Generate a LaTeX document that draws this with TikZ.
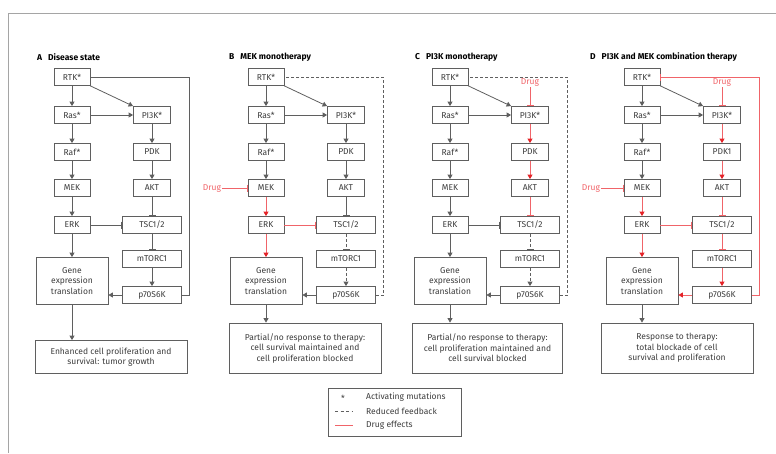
\documentclass[tikz,border=0pt]{standalone}
\usepackage{fontspec}
\setmainfont{Fira Sans}
\usetikzlibrary{arrows.meta,positioning,calc}
\definecolor{boxgray}{RGB}{95,95,95}
\definecolor{txtgray}{RGB}{60,60,60}
\definecolor{framegray}{RGB}{165,165,165}
\definecolor{drugred}{RGB}{240,100,105}
\definecolor{tipred}{RGB}{228,35,40}
\tikzset{
  box/.style={draw=boxgray, line width=0.8pt, minimum height=17pt, inner sep=1pt,
    text=txtgray, font=\fontsize{8.5}{10.5}\selectfont},
  act/.style={color=boxgray, line width=0.8pt, -{Triangle[length=4.5pt,width=5pt]}},
  inh/.style={color=boxgray, line width=0.8pt, -{Bar[width=7pt,line width=0.8pt]}},
  fbk/.style={dash pattern=on 3pt off 2pt},
  drugfx/.style={color=drugred},
  drugact/.style={color=drugred, line width=0.8pt, -{Triangle[length=4.5pt,width=5pt,color=tipred]}},
  drugtxt/.style={text=drugred, inner sep=1pt, font=\fontsize{8.5}{10.5}\selectfont},
  legtxt/.style={anchor=west, text=txtgray, font=\fontsize{8.5}{10}\selectfont, inner sep=0pt},
  paneltitle/.style={anchor=west, text=black, inner sep=0pt, font=\fontsize{8.5}{10}\selectfont\bfseries}
}
% nodes of one pathway: prefix, x of the left column, label of PDK
\newcommand{\pathnodes}[3]{%
  \begin{scope}[xshift=#2]
  \node[box, minimum width=36pt] (#1rtk) at (0,77) {RTK*};
  \node[box, minimum width=36pt] (#1ras) at (0,115) {Ras*};
  \node[box, minimum width=36pt] (#1raf) at (0,152) {Raf*};
  \node[box, minimum width=36pt] (#1mek) at (0,188) {MEK};
  \node[box, minimum width=36pt] (#1erk) at (0,225) {ERK};
  \node[box, minimum width=72pt, minimum height=47pt, align=center] (#1gene) at (0,281) {Gene\\expression\\translation};
  \node[box, minimum width=37pt] (#1pik) at (80,115) {PI3K*};
  \node[box, minimum width=37pt] (#1pdk) at (80,152) {#3};
  \node[box, minimum width=37pt] (#1akt) at (80,188) {AKT};
  \node[box, minimum width=59pt] (#1tsc) at (80,225) {TSC1/2};
  \node[box, minimum width=59pt] (#1mtor) at (80,259) {mTORC1};
  \node[box, minimum width=59pt] (#1p70) at (80,295) {p70S6K};
  \coordinate (#1fb) at (117.5,77);
  \end{scope}}

\begin{document}
\begin{tikzpicture}[x=1pt,y=-1pt]
	\useasboundingbox (0,0) rectangle (776,453);
	\draw [framegray, line width=1pt] (8,453) -- (8,13) -- (776,13);

	% legend
	\node[draw=boxgray, line width=0.8pt, minimum width=133pt, minimum height=48pt] (legend) at (394.5,412) {};
	\node[text=txtgray, font=\fontsize{8.5}{10}\selectfont] (lstar) at (343,398) {*};
	\node[legtxt] (ltxt1) at (366,397) {Activating mutations};
	\node[legtxt] (ltxt2) at (366,411) {Reduced feedback};
	\node[legtxt] (ltxt3) at (366,425) {Drug effects};
	\coordinate (ld1) at (335,411);
	\coordinate (ld2) at (353,411);
	\draw [color=boxgray, line width=0.8pt, dash pattern=on 3pt off 2.5pt] (ld1) -- (ld2);
	\node[fill=drugred, draw=none, inner sep=0pt, minimum width=18pt, minimum height=1pt] (lred) at (344,425.5) {};

	% A disease state
	\node[paneltitle] (atitle) at (37,57) {A\hspace{6pt}Disease state};
	\pathnodes{a}{72}{PDK}
	\node[box, minimum width=152pt, minimum height=33pt, align=center] (aout) at (111,357) {Enhanced cell proliferation and\\survival: tumor growth};
	\draw [act] (artk) -- (aras);
	\draw [act] (aras) -- (araf);
	\draw [act] (araf) -- (amek);
	\draw [act] (amek) -- (aerk);
	\draw [act] (aerk) -- (agene);
	\draw [act] (agene) -- (agene |- aout.north);
	\draw [act] (artk.south east) -- (apik.north west);
	\draw [act] (aras) -- (apik);
	\draw [act] (apik) -- (apdk);
	\draw [act] (apdk) -- (aakt);
	\draw [inh] (aakt) -- (atsc);
	\draw [inh] (aerk) -- (atsc);
	\draw [inh] (atsc) -- (amtor);
	\draw [act] (amtor) -- (ap70);
	\draw [act] (ap70) -- (ap70 -| agene.east);
	\draw [inh] (ap70.east) -| (afb) -- (artk.east);

	% B MEK monotherapy
	\node[paneltitle] (btitle) at (229,57) {B\hspace{6pt}MEK monotherapy};
	\pathnodes{b}{266}{PDK}
	\node[box, minimum width=152pt, minimum height=50pt, align=center] (bout) at (305,348) {Partial/no response to therapy:\\cell survival maintained and\\cell proliferation blocked};
	\node[drugtxt] (bdrug) at (212,188) {Drug};
	\draw [act] (brtk) -- (bras);
	\draw [act] (bras) -- (braf);
	\draw [act] (braf) -- (bmek);
	\draw [drugact] (bmek) -- (berk);
	\draw [drugact] (berk) -- (bgene);
	\draw [act] (bgene) -- (bgene |- bout.north);
	\draw [act] (brtk.south east) -- (bpik.north west);
	\draw [act] (bras) -- (bpik);
	\draw [act] (bpik) -- (bpdk);
	\draw [act] (bpdk) -- (bakt);
	\draw [inh] (bakt) -- (btsc);
	\draw [inh, drugfx] (berk) -- (btsc);
	\draw [inh, drugfx] (bdrug) -- (bmek);
	\draw [inh, fbk] (btsc) -- (bmtor);
	\draw [act, fbk] (bmtor) -- (bp70);
	\draw [act] (bp70) -- (bp70 -| bgene.east);
	\draw [inh, fbk] (bp70.east) -| (bfb) -- (brtk.east);

	% C PI3K monotherapy
	\node[paneltitle] (ctitle) at (415,57) {C\hspace{6pt}PI3K monotherapy};
	\pathnodes{c}{450}{PDK}
	\node[box, minimum width=150pt, minimum height=50pt, align=center] (cout) at (487.5,348) {Partial/no response to therapy:\\cell proliferation maintained and\\cell survival blocked};
	\node[drugtxt] (cdrug) at (530,82) {Drug};
	\draw [act] (crtk) -- (cras);
	\draw [act] (cras) -- (craf);
	\draw [act] (craf) -- (cmek);
	\draw [act] (cmek) -- (cerk);
	\draw [act] (cerk) -- (cgene);
	\draw [act] (cgene) -- (cgene |- cout.north);
	\draw [act] (crtk.south east) -- (cpik.north west);
	\draw [act] (cras) -- (cpik);
	\draw [inh, drugfx] (cdrug) -- (cpik);
	\draw [drugact] (cpik) -- (cpdk);
	\draw [drugact] (cpdk) -- (cakt);
	\draw [inh, drugfx] (cakt) -- (ctsc);
	\draw [inh] (cerk) -- (ctsc);
	\draw [inh, fbk] (ctsc) -- (cmtor);
	\draw [act, fbk] (cmtor) -- (cp70);
	\draw [act] (cp70) -- (cp70 -| cgene.east);
	\draw [inh, fbk] (cp70.east) -| (cfb) -- (crtk.east);

	% D PI3K and MEK combination therapy
	\node[paneltitle] (dtitle) at (590,57) {D\hspace{6pt}PI3K and MEK combination therapy};
	\pathnodes{d}{642}{PDK1}
	\node[box, minimum width=152pt, minimum height=50pt, align=center] (dout) at (677,348) {Response to therapy:\\total blockade of cell\\survival and proliferation};
	\node[drugtxt] (ddrug1) at (591,188) {Drug};
	\node[drugtxt] (ddrug2) at (722,82) {Drug};
	\draw [act] (drtk) -- (dras);
	\draw [act] (dras) -- (draf);
	\draw [act] (draf) -- (dmek);
	\draw [drugact] (dmek) -- (derk);
	\draw [drugact] (derk) -- (dgene);
	\draw [act] (dgene) -- (dgene |- dout.north);
	\draw [act] (drtk.south east) -- (dpik.north west);
	\draw [act] (dras) -- (dpik);
	\draw [inh, drugfx] (ddrug1) -- (dmek);
	\draw [inh, drugfx] (ddrug2) -- (dpik);
	\draw [drugact] (dpik) -- (dpdk);
	\draw [drugact] (dpdk) -- (dakt);
	\draw [inh, drugfx] (dakt) -- (dtsc);
	\draw [inh, drugfx] (derk) -- (dtsc);
	\draw [inh, drugfx] (dtsc) -- (dmtor);
	\draw [drugact] (dmtor) -- (dp70);
	\draw [drugact] (dp70) -- (dp70 -| dgene.east);
	\draw [inh, drugfx] (dp70.east) -| (dfb) -- (drtk.east);
\end{tikzpicture}
\end{document}
